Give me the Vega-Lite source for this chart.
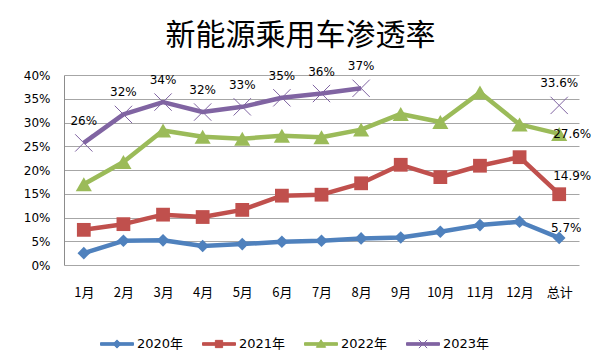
{
  "$schema": "https://vega.github.io/schema/vega-lite/v6.json",
  "width": 515,
  "height": 190,
  "autosize": {"type": "none"},
  "padding": {"left": 64, "top": 75, "right": 21, "bottom": 97},
  "background": "white",
  "config": {"view": {"stroke": null}},
  "title": {"text": "新能源乘用车渗透率", "font": "Noto Sans CJK SC", "fontSize": 30, "fontWeight": "normal", "color": "#000000", "anchor": "middle", "offset": 9, "dx": -21},
  "data": {"values": [
    {"series": "2020年", "month": "1月", "value": 2.5, "seg": "a"},
    {"series": "2020年", "month": "2月", "value": 5.1, "seg": "a"},
    {"series": "2020年", "month": "3月", "value": 5.2, "seg": "a"},
    {"series": "2020年", "month": "4月", "value": 4.0, "seg": "a"},
    {"series": "2020年", "month": "5月", "value": 4.4, "seg": "a"},
    {"series": "2020年", "month": "6月", "value": 4.9, "seg": "a"},
    {"series": "2020年", "month": "7月", "value": 5.1, "seg": "a"},
    {"series": "2020年", "month": "8月", "value": 5.6, "seg": "a"},
    {"series": "2020年", "month": "9月", "value": 5.8, "seg": "a"},
    {"series": "2020年", "month": "10月", "value": 7.0, "seg": "a"},
    {"series": "2020年", "month": "11月", "value": 8.4, "seg": "a"},
    {"series": "2020年", "month": "12月", "value": 9.1, "seg": "a"},
    {"series": "2020年", "month": "总计", "value": 5.7, "seg": "a", "label": "5.7%"},
    {"series": "2021年", "month": "1月", "value": 7.4, "seg": "a"},
    {"series": "2021年", "month": "2月", "value": 8.6, "seg": "a"},
    {"series": "2021年", "month": "3月", "value": 10.6, "seg": "a"},
    {"series": "2021年", "month": "4月", "value": 10.1, "seg": "a"},
    {"series": "2021年", "month": "5月", "value": 11.6, "seg": "a"},
    {"series": "2021年", "month": "6月", "value": 14.6, "seg": "a"},
    {"series": "2021年", "month": "7月", "value": 14.8, "seg": "a"},
    {"series": "2021年", "month": "8月", "value": 17.2, "seg": "a"},
    {"series": "2021年", "month": "9月", "value": 21.1, "seg": "a"},
    {"series": "2021年", "month": "10月", "value": 18.5, "seg": "a"},
    {"series": "2021年", "month": "11月", "value": 20.9, "seg": "a"},
    {"series": "2021年", "month": "12月", "value": 22.7, "seg": "a"},
    {"series": "2021年", "month": "总计", "value": 14.9, "seg": "a", "label": "14.9%"},
    {"series": "2022年", "month": "1月", "value": 17.0, "seg": "a"},
    {"series": "2022年", "month": "2月", "value": 21.7, "seg": "a"},
    {"series": "2022年", "month": "3月", "value": 28.3, "seg": "a"},
    {"series": "2022年", "month": "4月", "value": 27.0, "seg": "a"},
    {"series": "2022年", "month": "5月", "value": 26.6, "seg": "a"},
    {"series": "2022年", "month": "6月", "value": 27.2, "seg": "a"},
    {"series": "2022年", "month": "7月", "value": 26.9, "seg": "a"},
    {"series": "2022年", "month": "8月", "value": 28.5, "seg": "a"},
    {"series": "2022年", "month": "9月", "value": 31.8, "seg": "a"},
    {"series": "2022年", "month": "10月", "value": 30.1, "seg": "a"},
    {"series": "2022年", "month": "11月", "value": 36.3, "seg": "a"},
    {"series": "2022年", "month": "12月", "value": 29.6, "seg": "a"},
    {"series": "2022年", "month": "总计", "value": 27.6, "seg": "a", "label": "27.6%"},
    {"series": "2023年", "month": "1月", "value": 25.7, "seg": "a", "label": "26%"},
    {"series": "2023年", "month": "2月", "value": 31.7, "seg": "a", "label": "32%"},
    {"series": "2023年", "month": "3月", "value": 34.3, "seg": "a", "label": "34%"},
    {"series": "2023年", "month": "4月", "value": 32.2, "seg": "a", "label": "32%"},
    {"series": "2023年", "month": "5月", "value": 33.3, "seg": "a", "label": "33%"},
    {"series": "2023年", "month": "6月", "value": 35.2, "seg": "a", "label": "35%"},
    {"series": "2023年", "month": "7月", "value": 36.1, "seg": "a", "label": "36%"},
    {"series": "2023年", "month": "8月", "value": 37.2, "seg": "a", "label": "37%"},
    {"series": "2023年", "month": "总计", "value": 33.6, "seg": "b", "label": "33.6%"}
  ]},
  "encoding": {
    "x": {
      "field": "month", "type": "ordinal",
      "sort": ["1月","2月","3月","4月","5月","6月","7月","8月","9月","10月","11月","12月","总计"],
      "scale": {"type": "point", "padding": 0.5},
      "axis": {"title": null, "labelAngle": 0, "ticks": false, "domain": false, "grid": false, "labelFont": "Noto Sans CJK SC", "labelFontSize": 13, "labelColor": "#000000", "labelPadding": 21}
    },
    "y": {
      "field": "value", "type": "quantitative",
      "scale": {"domain": [0, 40], "nice": false},
      "axis": {"title": null, "values": [0,5,10,15,20,25,30,35,40], "labelExpr": "datum.value + '%'", "ticks": false, "domain": true, "domainColor": "#8C8C8C", "grid": true, "gridColor": "#A6A6A6", "gridWidth": 1, "labelFont": "DejaVu Sans", "labelFontSize": 12, "labelColor": "#000000", "labelPadding": 14}
    },
    "color": {
      "field": "series", "type": "nominal",
      "scale": {"domain": ["2020年","2021年","2022年","2023年"], "range": ["#4F81BD","#C0504D","#9BBB59","#8064A2"]},
      "legend": {
        "orient": "none", "legendX": 36, "legendY": 252, "direction": "horizontal", "title": null,
        "labelFont": "DejaVu Sans, Noto Sans CJK SC", "labelFontSize": 13, "labelColor": "#000000",
        "symbolSize": 1089, "symbolStrokeWidth": 1, "columnPadding": 16, "labelOffset": 3,
        "encode": {"symbols": {"update": {
          "shape": {"signal": "datum.value == '2020年' ? 'M-1,-0.08L1,-0.08L1,0.08L-1,0.08ZM0,-0.25L0.25,0L0,0.25L-0.25,0Z' : datum.value == '2021年' ? 'M-1,-0.08L1,-0.08L1,0.08L-1,0.08ZM-0.22,-0.22L0.22,-0.22L0.22,0.22L-0.22,0.22Z' : datum.value == '2022年' ? 'M-1,-0.08L1,-0.08L1,0.08L-1,0.08ZM0,-0.26L0.28,0.2L-0.28,0.2Z' : 'M-1,-0.08L1,-0.08L1,0.08L-1,0.08ZM-0.25,-0.25L0.25,0.25M-0.25,0.25L0.25,-0.25'"},
          "size": {"value": 1089},
          "fill": {"scale": "color", "field": "value"},
          "stroke": {"scale": "color", "field": "value"},
          "strokeWidth": {"value": 1},
          "opacity": {"value": 1}
        }}}
      }
    }
  },
  "layer": [
    {
      "mark": {"type": "line", "strokeWidth": 4.5, "strokeJoin": "round"},
      "encoding": {"detail": {"field": "seg"}}
    },
    {
      "transform": [{"filter": "datum.series == '2020年'"}],
      "mark": {"type": "point", "filled": true, "opacity": 1, "shape": "diamond", "size": 160}
    },
    {
      "transform": [{"filter": "datum.series == '2021年'"}],
      "mark": {"type": "point", "filled": true, "opacity": 1, "shape": "square", "size": 190}
    },
    {
      "transform": [{"filter": "datum.series == '2022年'"}],
      "mark": {"type": "point", "filled": true, "opacity": 1, "shape": "triangle-up", "size": 260}
    },
    {
      "transform": [{"filter": "datum.series == '2023年'"}],
      "mark": {"type": "point", "filled": false, "opacity": 1, "shape": "M-1,-1L1,1M-1,1L1,-1", "size": 300, "strokeWidth": 1}
    },
    {
      "transform": [{"filter": "datum.series == '2023年'"}],
      "mark": {"type": "text", "font": "DejaVu Sans", "fontSize": 12, "dy": -22},
      "encoding": {"text": {"field": "label"}, "color": {"value": "#000000"}}
    },
    {
      "transform": [{"filter": "datum.series == '2022年' && datum.month == '总计'"}],
      "mark": {"type": "text", "font": "DejaVu Sans", "fontSize": 12, "dx": 13, "dy": 0},
      "encoding": {"text": {"field": "label"}, "color": {"value": "#000000"}}
    },
    {
      "transform": [{"filter": "datum.series == '2021年' && datum.month == '总计'"}],
      "mark": {"type": "text", "font": "DejaVu Sans", "fontSize": 12, "dx": 13, "dy": -18},
      "encoding": {"text": {"field": "label"}, "color": {"value": "#000000"}}
    },
    {
      "transform": [{"filter": "datum.series == '2020年' && datum.month == '总计'"}],
      "mark": {"type": "text", "font": "DejaVu Sans", "fontSize": 12, "dx": 7, "dy": -10},
      "encoding": {"text": {"field": "label"}, "color": {"value": "#000000"}}
    }
  ]
}
